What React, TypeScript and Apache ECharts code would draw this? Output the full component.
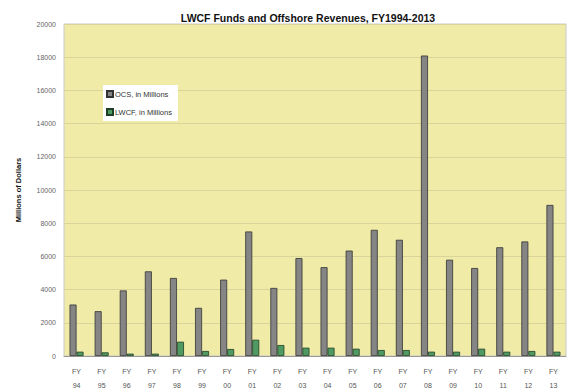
import React, { useEffect, useRef } from "react";
import * as echarts from "echarts";

const categories = ["FY\n94", "FY\n95", "FY\n96", "FY\n97", "FY\n98", "FY\n99", "FY\n00", "FY\n01", "FY\n02", "FY\n03", "FY\n04", "FY\n05", "FY\n06", "FY\n07", "FY\n08", "FY\n09", "FY\n10", "FY\n11", "FY\n12", "FY\n13"];
const ocsValues = [3100, 2700, 3950, 5100, 4700, 2900, 4600, 7500, 4100, 5900, 5350, 6350, 7600, 7000, 18100, 5800, 5300, 6550, 6900, 9100];
const lwcfValues = [260, 220, 140, 140, 860, 300, 420, 980, 660, 500, 500, 440, 360, 360, 260, 260, 440, 260, 300, 260];
const yTicks = { min: 0, max: 20000, interval: 2000 };

export default function App() {
  const ref = useRef<HTMLDivElement>(null);
  useEffect(() => {
    if (!ref.current) return;
    const chart = echarts.init(ref.current, null, { renderer: "svg" });
    chart.setOption({
      animation: false,
      backgroundColor: "#ffffff",
      textStyle: { fontFamily: "Liberation Sans, Arial, sans-serif" },
      title: {
        text: "LWCF Funds and Offshore Revenues, FY1994-2013",
        left: 303,
        textAlign: "center",
        top: 7,
        textStyle: { fontSize: 10.5, fontWeight: "bold", color: "#111" },
      },
      legend: {
        orient: "vertical",
        left: 103,
        top: 85,
        backgroundColor: "#ffffff",
        padding: [5, 6, 5, 3],
        itemGap: 10,
        itemWidth: 6,
        itemHeight: 6,
        icon: "rect",
        textStyle: { fontSize: 7.5, color: "#333", padding: [0, 0, 0, -3] },
        data: ["OCS, in Millions", "LWCF, in Millions"],
      },
      grid: {
        left: 64,
        right: 14,
        top: 24,
        bottom: 35,
        show: true,
        backgroundColor: "#f0eca8",
        borderColor: "#c8c8c8",
        borderWidth: 1,
      },
      xAxis: {
        type: "category",
        data: categories,
        axisLine: { show: true, lineStyle: { color: "#999" } },
        axisTick: { show: false },
        axisLabel: { fontSize: 7, color: "#555", lineHeight: 14, margin: 8, interval: 0 },
      },
      yAxis: {
        type: "value",
        min: yTicks.min,
        max: yTicks.max,
        interval: yTicks.interval,
        name: "Millions of Dollars",
        nameLocation: "middle",
        nameGap: 42,
        nameTextStyle: { fontSize: 7.5, fontWeight: "bold", color: "#111" },
        axisLine: { show: false },
        axisTick: { show: false },
        axisLabel: { fontSize: 7, color: "#666", margin: 8, formatter: (v: number) => String(v) },
        splitLine: { show: true, lineStyle: { color: "#d8d49a", width: 1 } },
      },
      series: [
        {
          name: "OCS, in Millions",
          type: "bar",
          data: ocsValues,
          barWidth: 7,
          barGap: "0%",
          itemStyle: { color: "#858585", borderColor: "#333", borderWidth: 0.8 },
        },
        {
          name: "LWCF, in Millions",
          type: "bar",
          data: lwcfValues,
          barWidth: 7,
          barGap: "0%",
          itemStyle: { color: "#4f9a63", borderColor: "#1f3f25", borderWidth: 0.8 },
        },
      ],
    });
    return () => chart.dispose();
  }, []);
  return <div ref={ref} style={{ width: 580, height: 392, position: "absolute", left: 0, top: 0 }} />;
}
